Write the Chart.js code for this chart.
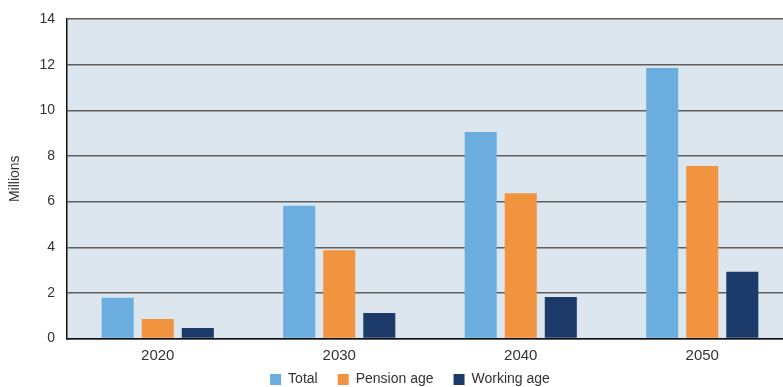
<!DOCTYPE html>
<html>
<head>
<meta charset="utf-8">
<script src="https://cdn.jsdelivr.net/npm/chart.js@4.4.1/dist/chart.umd.min.js"></script>
<style>
  html, body { margin: 0; padding: 0; background: #fff; overflow: hidden; }
  #wrap { position: relative; width: 820px; height: 387px; }
</style>
</head>
<body>
<div id="wrap"><canvas id="popChart"></canvas></div>
<script>
// Population aged 65+ projections (millions)
const years = ['2020', '2030', '2040', '2050'];
const total = [1.79, 5.82, 9.05, 11.85];
const pensionAge = [0.85, 3.87, 6.36, 7.56];
const workingAge = [0.46, 1.12, 1.82, 2.93];
const yTicks = [0, 2, 4, 6, 8, 10, 12, 14];

const FONT = "'Liberation Sans', Arial, Helvetica, sans-serif";
const TEXT = '#333333';

// fill the plot area before the grid is drawn
const plotBg = {
    id: 'plotBg',
    beforeDraw(chart) {
        const { ctx, chartArea: a } = chart;
        ctx.save();
        ctx.fillStyle = '#dbe6ee';
        ctx.fillRect(a.left, a.top, a.right - a.left, a.bottom - a.top);
        ctx.restore();
    }
};

Chart.defaults.font.family = FONT;
Chart.defaults.color = TEXT;

new Chart(document.getElementById('popChart'), {
    type: 'bar',
    data: {
        labels: years,
        datasets: [
            { label: 'Total', data: total, backgroundColor: '#6badde' },
            { label: 'Pension age', data: pensionAge, backgroundColor: '#f29340' },
            { label: 'Working age', data: workingAge, backgroundColor: '#1c3a6a' }
        ]
    },
    options: {
        responsive: true,
        maintainAspectRatio: false,
        animation: false,
        categoryPercentage: 0.662,
        barPercentage: 0.8,
        // legend is allowed to hang below the canvas a little
        layout: { padding: { top: 19, left: 0, right: 0, bottom: -9.4 } },
        plugins: {
            legend: {
                position: 'bottom',
                labels: {
                    boxWidth: 11,
                    boxHeight: 11,
                    padding: 20,
                    font: { size: 14 },
                    color: TEXT
                }
            },
            tooltip: { enabled: false }
        },
        scales: {
            x: {
                // mirrored ticks are not clipped, so the axis box can stay thin
                afterFit(scale) { scale.height = 13.9; },
                grid: { display: false, drawTicks: false },
                border: { color: '#111', width: 1.5 },
                ticks: { font: { size: 15 }, color: TEXT, mirror: true, padding: -26 }
            },
            y: {
                min: 0,
                max: 14,
                afterBuildTicks(scale) {
                    scale.ticks = yTicks.map(v => ({ value: v }));
                },
                afterFit(scale) { scale.width = 67; },
                grid: { color: '#5e5e5e', lineWidth: 1.4, drawTicks: false },
                border: { color: '#111', width: 1.5 },
                ticks: { font: { size: 14, lineHeight: 1 }, color: TEXT, padding: 12 },
                title: { display: true, text: 'Millions', font: { size: 14 }, color: TEXT, padding: { top: 6.6, bottom: 0 } }
            },
            // empty axis on the right, only there to reserve space
            yRight: {
                position: 'right',
                display: true,
                grid: { display: false, drawTicks: false },
                border: { display: false },
                ticks: { display: false },
                afterFit(scale) { scale.width = 27; }
            }
        }
    },
    plugins: [plotBg]
});
</script>
</body>
</html>
